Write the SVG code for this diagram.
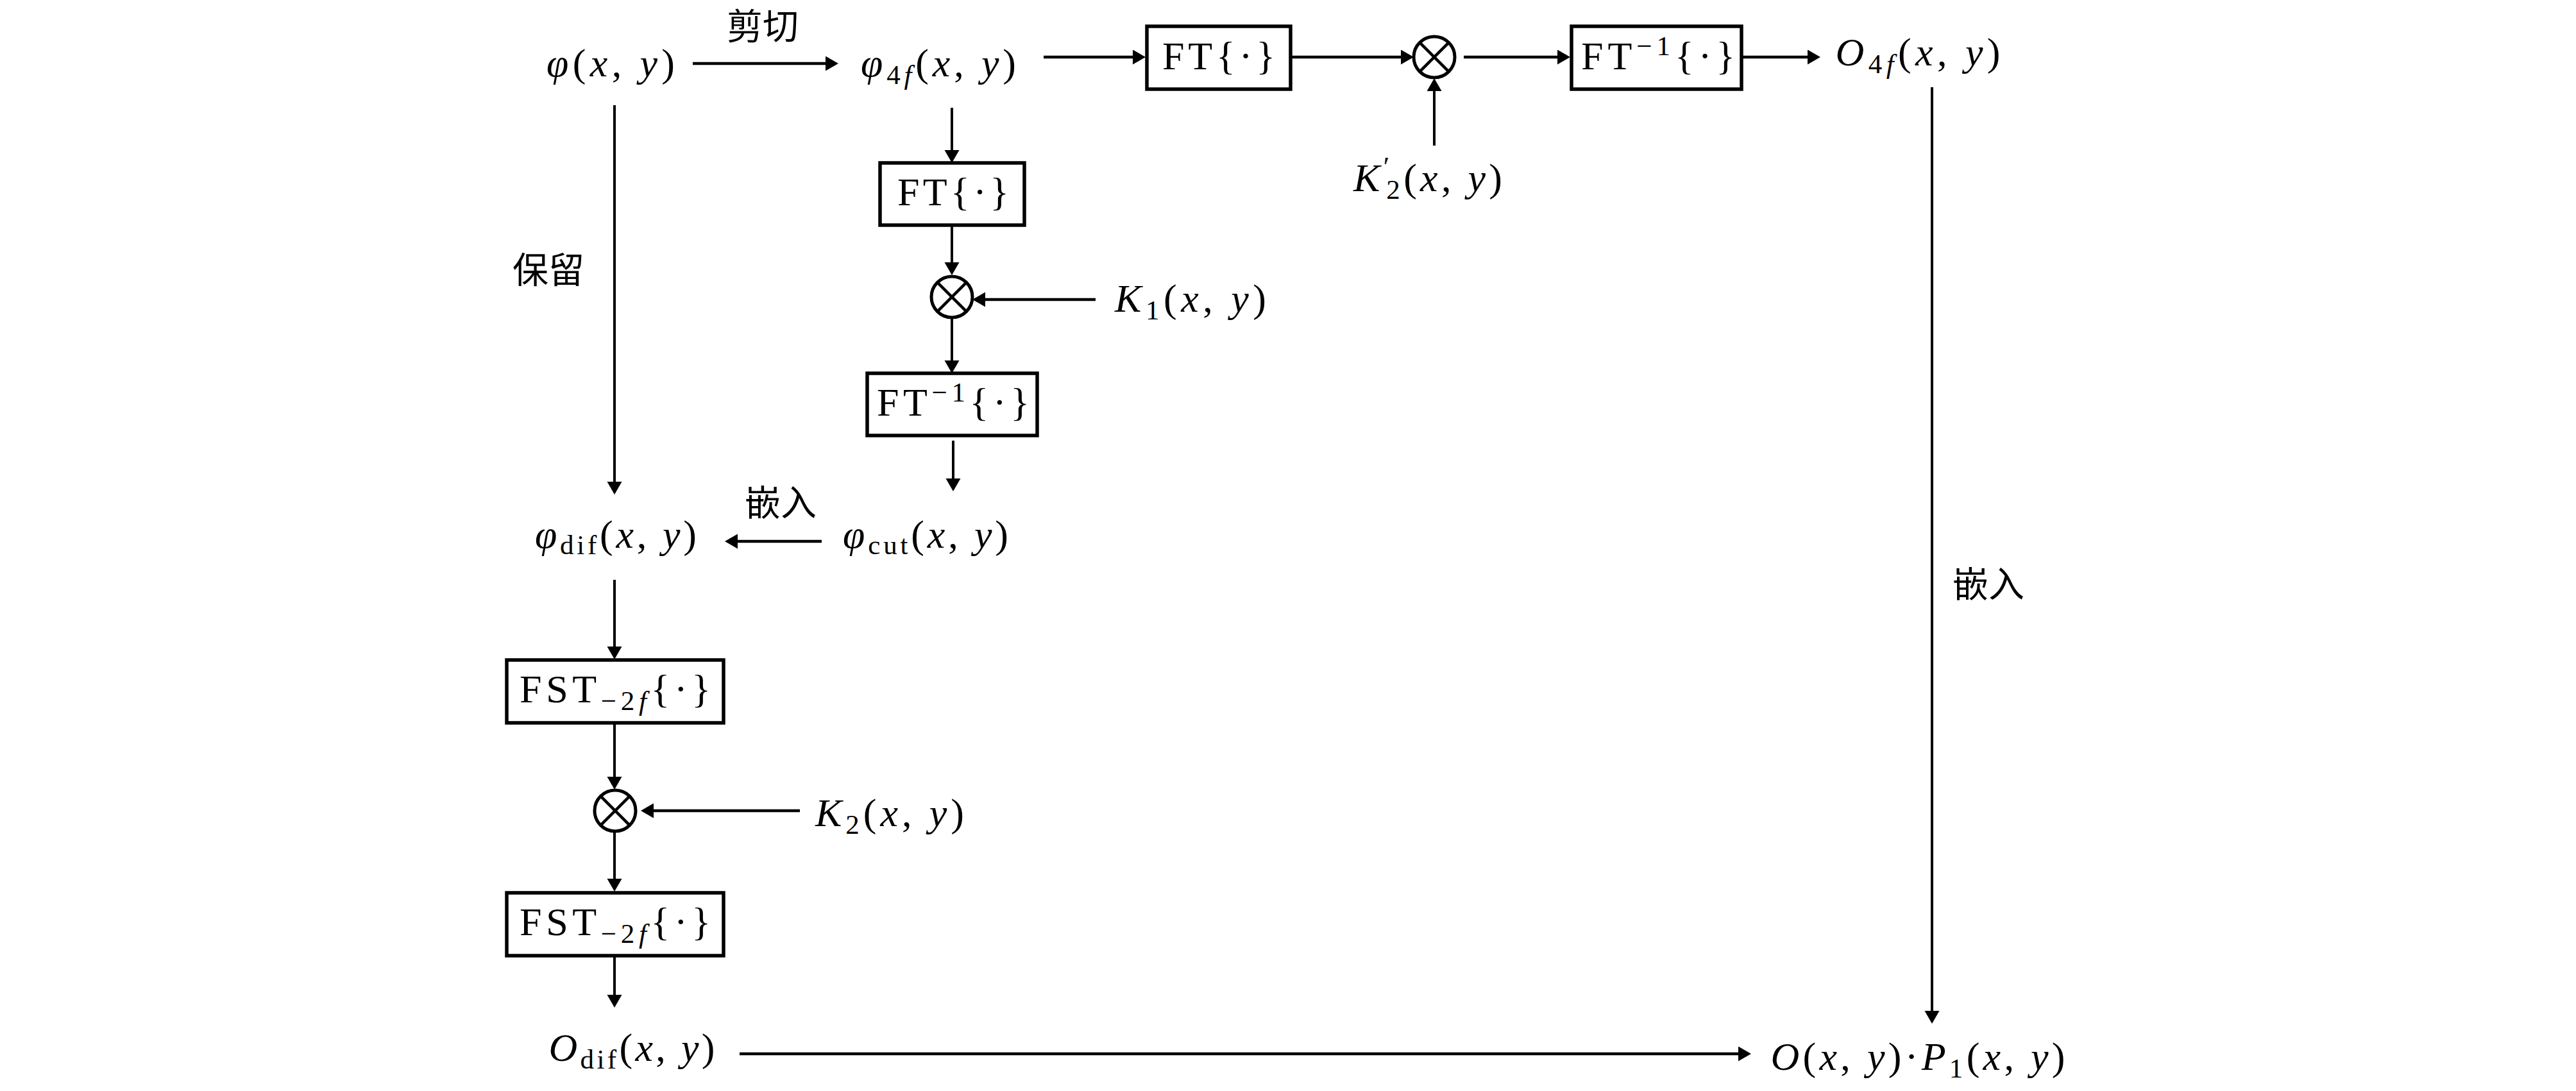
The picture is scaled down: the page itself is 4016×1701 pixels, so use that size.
<svg xmlns="http://www.w3.org/2000/svg" width="4016" height="1701" viewBox="0 0 4016 1701">
<defs>
<style>
.m{font-family:"Liberation Serif","DejaVu Serif",serif;font-size:62px;fill:#000}
.i{font-style:italic}
.s{font-size:43px}
.c{font-family:"Noto Sans CJK SC","Noto Sans CJK TC",sans-serif;font-size:56px;fill:#000}
.box{fill:#fff;stroke:#000;stroke-width:5.5}
.ring{fill:#fff;stroke:#000;stroke-width:5}
.x{stroke:#000;stroke-width:4.5}
.ln{stroke:#000;stroke-width:4;fill:none;marker-end:url(#ah)}
.h{stroke-width:4.6}
</style>
<marker id="ah" markerUnits="userSpaceOnUse" markerWidth="22" markerHeight="24" refX="14" refY="11.5" orient="auto">
<path d="M0,0 L20,11.5 L0,23 z" fill="#000"/>
</marker>
</defs>
<rect width="4016" height="1701" fill="#fff"/>

<g id="connectors">
<line class="ln h" x1="1080" y1="99" x2="1301" y2="99"/>
<line class="ln h" x1="1627" y1="89" x2="1780" y2="89"/>
<line class="ln h" x1="2012" y1="89" x2="2198" y2="89"/>
<line class="ln h" x1="2282" y1="89" x2="2442" y2="89"/>
<line class="ln h" x1="2715" y1="89" x2="2832" y2="89"/>
<line class="ln" x1="2236" y1="227" x2="2236" y2="128"/>
<line class="ln" x1="3012" y1="136" x2="3012" y2="1590"/>
<line class="ln" x1="958" y1="164" x2="958" y2="765"/>
<line class="ln" x1="1484" y1="168" x2="1484" y2="248"/>
<line class="ln" x1="1484" y1="351" x2="1484" y2="423"/>
<line class="ln h" x1="1708" y1="467" x2="1522" y2="467"/>
<line class="ln" x1="1484" y1="496" x2="1484" y2="576"/>
<line class="ln" x1="1486" y1="687" x2="1486" y2="760"/>
<line class="ln h" x1="1281" y1="844" x2="1136" y2="844"/>
<line class="ln" x1="958" y1="904" x2="958" y2="1022"/>
<line class="ln" x1="958" y1="1127" x2="958" y2="1225"/>
<line class="ln h" x1="1247" y1="1264" x2="1005" y2="1264"/>
<line class="ln" x1="958" y1="1297" x2="958" y2="1384"/>
<line class="ln" x1="958" y1="1490" x2="958" y2="1565"/>
<line class="ln h" x1="1153" y1="1643" x2="2724" y2="1643"/>
</g>

<g id="label-cut"><text class="c" x="1189" y="61" text-anchor="middle">剪切</text></g>
<g id="label-keep"><text class="c" x="855" y="441" text-anchor="middle">保留</text></g>
<g id="label-embed1"><text class="c" x="1217" y="804" text-anchor="middle">嵌入</text></g>
<g id="label-embed2"><text class="c" x="3100" y="931" text-anchor="middle">嵌入</text></g>

<g id="phi"><text class="m" x="952" y="119" text-anchor="middle" textLength="200" lengthAdjust="spacing"><tspan class="i">φ</tspan>(<tspan class="i">x</tspan>, <tspan class="i">y</tspan>)</text></g>

<g id="phi4f"><text class="m" x="1463" y="119" text-anchor="middle" textLength="242" lengthAdjust="spacing"><tspan class="i">φ</tspan><tspan class="s" dy="12">4</tspan><tspan class="s i">f</tspan><tspan dy="-12">(</tspan><tspan class="i">x</tspan>, <tspan class="i">y</tspan>)</text></g>

<g id="ft1"><rect class="box" x="1788" y="41" width="224" height="98"/><text class="m" x="1900" y="108" text-anchor="middle" textLength="176" lengthAdjust="spacing">FT{·}</text></g>

<g id="mul1"><circle class="ring" cx="2236" cy="89" r="32"/><line class="x" x1="2213.4" y1="66.4" x2="2258.6" y2="111.6"/><line class="x" x1="2258.6" y1="66.4" x2="2213.4" y2="111.6"/></g>

<g id="ftinv1"><rect class="box" x="2450" y="41" width="265" height="98"/><text class="m" x="2585" y="108" text-anchor="middle" textLength="240" lengthAdjust="spacing">FT<tspan class="s" dy="-22">−1</tspan><tspan dy="22">{·}</tspan></text></g>

<g id="o4f"><text class="m" x="2990" y="102" text-anchor="middle" textLength="257" lengthAdjust="spacing"><tspan class="i">O</tspan><tspan class="s" dy="12">4</tspan><tspan class="s i">f</tspan><tspan dy="-12">(</tspan><tspan class="i">x</tspan>, <tspan class="i">y</tspan>)</text></g>

<g id="k2p"><text class="m" x="2226" y="298" text-anchor="middle" textLength="232" lengthAdjust="spacing"><tspan class="i">K</tspan><tspan class="s" dy="-24">′</tspan><tspan class="s" dx="-10" dy="36">2</tspan><tspan dy="-12">(</tspan><tspan class="i">x</tspan>, <tspan class="i">y</tspan>)</text></g>

<g id="ft2"><rect class="box" x="1372" y="254" width="225" height="97"/><text class="m" x="1486" y="320" text-anchor="middle" textLength="174" lengthAdjust="spacing">FT{·}</text></g>

<g id="mul2"><circle class="ring" cx="1484" cy="463" r="32"/><line class="x" x1="1461.4" y1="440.4" x2="1506.6" y2="485.6"/><line class="x" x1="1506.6" y1="440.4" x2="1461.4" y2="485.6"/></g>

<g id="k1"><text class="m" x="1856" y="486" text-anchor="middle" textLength="236" lengthAdjust="spacing"><tspan class="i">K</tspan><tspan class="s" dy="12">1</tspan><tspan dy="-12">(</tspan><tspan class="i">x</tspan>, <tspan class="i">y</tspan>)</text></g>

<g id="ftinv2"><rect class="box" x="1352" y="582" width="265" height="97"/><text class="m" x="1486" y="648" text-anchor="middle" textLength="238" lengthAdjust="spacing">FT<tspan class="s" dy="-22">−1</tspan><tspan dy="22">{·}</tspan></text></g>

<g id="phidif"><text class="m" x="960" y="854" text-anchor="middle" textLength="252" lengthAdjust="spacing"><tspan class="i">φ</tspan><tspan class="s" dy="10">dif</tspan><tspan dy="-10">(</tspan><tspan class="i">x</tspan>, <tspan class="i">y</tspan>)</text></g>

<g id="phicut"><text class="m" x="1443" y="854" text-anchor="middle" textLength="258" lengthAdjust="spacing"><tspan class="i">φ</tspan><tspan class="s" dy="10">cut</tspan><tspan dy="-10">(</tspan><tspan class="i">x</tspan>, <tspan class="i">y</tspan>)</text></g>

<g id="fst1"><rect class="box" x="790" y="1029" width="338" height="98"/><text class="m" x="959" y="1095" text-anchor="middle" textLength="298" lengthAdjust="spacing">FST<tspan class="s" dy="12">−2</tspan><tspan class="s i">f</tspan><tspan dy="-12">{·}</tspan></text></g>

<g id="mul3"><circle class="ring" cx="959" cy="1264" r="32"/><line class="x" x1="936.4" y1="1241.4" x2="981.6" y2="1286.6"/><line class="x" x1="981.6" y1="1241.4" x2="936.4" y2="1286.6"/></g>

<g id="k2"><text class="m" x="1387" y="1288" text-anchor="middle" textLength="232" lengthAdjust="spacing"><tspan class="i">K</tspan><tspan class="s" dy="12">2</tspan><tspan dy="-12">(</tspan><tspan class="i">x</tspan>, <tspan class="i">y</tspan>)</text></g>

<g id="fst2"><rect class="box" x="790" y="1392" width="338" height="98"/><text class="m" x="959" y="1458" text-anchor="middle" textLength="298" lengthAdjust="spacing">FST<tspan class="s" dy="12">−2</tspan><tspan class="s i">f</tspan><tspan dy="-12">{·}</tspan></text></g>

<g id="odif"><text class="m" x="985" y="1654" text-anchor="middle" textLength="259" lengthAdjust="spacing"><tspan class="i">O</tspan><tspan class="s" dy="12">dif</tspan><tspan dy="-12">(</tspan><tspan class="i">x</tspan>, <tspan class="i">y</tspan>)</text></g>

<g id="result"><text class="m" x="2990" y="1668" text-anchor="middle" textLength="459" lengthAdjust="spacing"><tspan class="i">O</tspan>(<tspan class="i">x</tspan>, <tspan class="i">y</tspan>)·<tspan class="i">P</tspan><tspan class="s" dy="12">1</tspan><tspan dy="-12">(</tspan><tspan class="i">x</tspan>, <tspan class="i">y</tspan>)</text></g>
</svg>
